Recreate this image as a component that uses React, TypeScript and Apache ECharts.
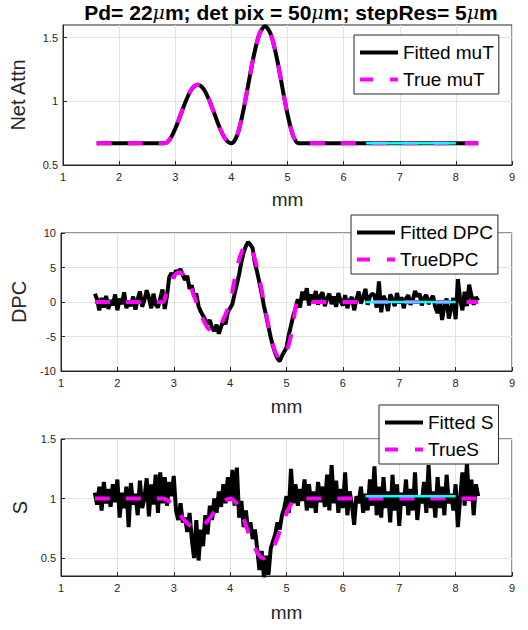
import React, { useEffect, useRef } from "react";
import * as echarts from "echarts";

// ---------- data ----------
const X_START = 1.6;
const TRUE_STEP = 0.1; // true curves sampled every 0.1 mm from 1.6 to 8.4
const FIT_STEP = 0.04; // fitted curves sampled every 0.04 mm from 1.6 to 8.4

const trueMuT = [
  0.67, 0.67, 0.67, 0.67, 0.67, 0.67, 0.67, 0.67, 0.67, 0.67, 0.67, 0.67,
  0.67, 0.7, 0.785, 0.9, 1.015, 1.1, 1.13, 1.1, 1.015, 0.9, 0.785, 0.7, 0.67,
  0.73, 0.9, 1.13, 1.36, 1.53, 1.59, 1.53, 1.36, 1.13, 0.9, 0.73, 0.67,
  0.67, 0.67, 0.67, 0.67, 0.67, 0.67, 0.67, 0.67, 0.67, 0.67, 0.67, 0.67, 0.67, 0.67, 0.67, 0.67,
  0.67, 0.67, 0.67, 0.67, 0.67, 0.67, 0.67, 0.67, 0.67, 0.67, 0.67, 0.67, 0.67, 0.67, 0.67, 0.67,
];
const fittedMuT = [
  0.67, 0.67, 0.67, 0.67, 0.67, 0.67, 0.67, 0.67, 0.67, 0.67, 0.67, 0.67,
  0.67, 0.7, 0.785, 0.9, 1.015, 1.1, 1.13, 1.1, 1.015, 0.9, 0.785, 0.7, 0.67,
  0.73, 0.9, 1.13, 1.36, 1.53, 1.59, 1.53, 1.36, 1.13, 0.9, 0.73, 0.67,
  0.67, 0.67, 0.67, 0.67, 0.67, 0.67, 0.67, 0.67, 0.67, 0.67, 0.67, 0.67, 0.67, 0.67, 0.67, 0.67,
  0.67, 0.67, 0.67, 0.67, 0.67, 0.67, 0.67, 0.67, 0.67, 0.67, 0.67, 0.67, 0.67, 0.67, 0.67, 0.67,
];
const trueDPC = [
  0, 0, 0, 0, 0, 0, 0, 0, 0, 0, 0, 0, 0,
  2.15, 3.72, 4.3, 3.72, 2.15, 0, -2.15, -3.72, -4.3, -3.72, -2.15, 0,
  4.15, 7.19, 8.3, 7.19, 4.15, 0, -4.15, -7.19, -8.3, -7.19, -4.15, 0,
  0, 0, 0, 0, 0, 0, 0, 0, 0, 0, 0, 0, 0, 0, 0, 0,
  0, 0, 0, 0, 0, 0, 0, 0, 0, 0, 0, 0, 0, 0, 0, 0,
];
const trueS = [
  1, 1, 1, 1, 1, 1, 1, 1, 1, 1, 1, 1, 1,
  0.983, 0.94, 0.875, 0.81, 0.77, 0.75, 0.77, 0.81, 0.875, 0.94, 0.983, 1,
  0.967, 0.875, 0.75, 0.625, 0.533, 0.5, 0.533, 0.625, 0.75, 0.875, 0.967, 1,
  1, 1, 1, 1, 1, 1, 1, 1, 1, 1, 1, 1, 1, 1, 1, 1,
  1, 1, 1, 1, 1, 1, 1, 1, 1, 1, 1, 1, 1, 1, 1, 1,
];
const fittedDPC = [
  1.2, 0.4, -1.2, 0.6, -0.8, 0.9, -1.0, 0.3, -0.5, 1.1,
  -1.2, 0.5, -0.3, 1.4, -0.9, 0.2, -0.6, 0.8, -1.1, 0.4,
  1.5, -0.7, 0.3, 1.7, 0.6, -0.9, 1.2, -0.4, -0.8, 0.5,
  1.8, -1.0, 0.9, 3.6, 4.2, 3.5, 4.6, 4.1, 4.8, 3.9,
  3.2, 3.8, 1.9, 2.4, 0.8, 1.2, -0.6, -1.4, -2.0, -2.6,
  -3.2, -2.6, -3.8, -4.2, -3.3, -4.6, -3.6, -2.8, -3.2, -1.4,
  -0.9, -0.3, 1.2, 2.6, 4.0, 5.8, 7.2, 8.1, 8.7, 8.3,
  7.8, 5.6, 4.3, 2.8, 1.2, -0.6, -2.0, -3.6, -5.1, -6.4,
  -7.4, -8.2, -8.6, -7.8, -7.2, -6.6, -4.8, -3.4, -2.0, -0.9,
  0.4, -0.8, 1.5, 0.3, 2.0, -0.5, 1.1, 0.2, 1.6, -0.4,
  0.9, 1.4, -0.6, 0.5, 1.2, -0.3, 0.8, -0.7, 1.3, 0.1,
  -0.5, 1.0, -0.9, 0.3, 0.7, -1.2, 0.4, 1.5, -0.2, 0.6,
  1.9, -0.4, 0.8, 1.2, 1.0, -0.8, 3.0, -1.5, 0.9, 0.2,
  -1.3, 1.1, 0.4, -0.6, 1.3, -0.2, 0.7, -0.9, 0.5, 1.0,
  -0.4, 0.3, 1.6, 0.8, 1.2, -0.5, 0.6, 1.0, -0.3, 0.4,
  0.9, -0.8, -1.6, 0.2, -2.6, -0.6, 0.5, -2.4, -0.9, 0.6,
  -2.5, 3.3, 0.4, -1.2, 1.5, -0.6, 2.5, 0.9, -0.4, 0.7,
  0.2,
];
const fittedS = [
  1.05, 0.95, 1.1, 0.9, 1.14, 0.96, 1.08, 0.93, 1.12, 0.97,
  1.16, 0.84, 1.05, 0.92, 1.1, 0.76, 1.13, 0.95, 1.04, 0.86,
  1.15, 0.92, 1.0, 1.17, 0.85, 1.12, 0.95, 1.2, 0.88, 1.22,
  0.96, 1.18, 0.94, 1.14, 1.02, 1.19, 0.9, 0.82, 0.96, 0.8,
  0.84, 0.72, 0.88, 0.66, 0.5, 0.82, 0.48, 0.74, 0.6, 0.86,
  0.7, 0.94, 0.82, 1.0, 0.88, 1.06, 0.93, 1.12, 0.96, 1.18,
  0.98, 1.24, 0.94, 1.26, 0.84, 0.98, 0.76, 0.9, 0.72, 0.8,
  0.66, 0.74, 0.58, 0.4, 0.56, 0.34, 0.52, 0.36, 0.58, 0.64,
  0.7, 0.8, 0.74, 0.86, 0.92, 1.02, 0.88, 1.25, 0.96, 1.12,
  0.94, 1.08, 0.98, 1.16, 0.9, 1.12, 0.92, 1.06, 0.88, 1.14,
  0.97, 1.1, 0.93, 1.2, 0.9, 1.28, 0.96, 1.15, 0.88, 1.08,
  0.92, 1.22, 0.86, 1.06, 0.95, 0.78, 1.02, 0.96, 1.1, 0.88,
  1.04, 0.9, 1.16, 0.94, 1.27, 0.86, 1.1, 0.84, 1.18, 0.92,
  1.06, 0.8, 1.2, 0.9, 1.12, 0.77, 1.05, 0.94, 1.16, 0.86,
  1.08, 0.9, 1.22, 0.82, 1.02, 0.96, 1.14, 0.88, 1.28, 0.92,
  1.06, 0.84, 1.18, 0.92, 1.1, 0.86, 1.2, 0.96, 1.04, 0.9,
  1.12, 0.76, 1.0, 1.22, 0.94, 1.3, 0.98, 1.16, 0.86, 1.12,
  1.02,
];
// cyan reference segment (background region)
const bgX = [6.4, 8.0];
const bgMuT = [0.67, 0.67];
const bgDPC = [0, 0];
const bgS = [1.02, 1.02];

const xTicks = [1, 2, 3, 4, 5, 6, 7, 8, 9];
const muTTicks = [0.5, 1, 1.5];
const sTicks = [0.5, 1, 1.5];

// ---------- helpers ----------
const FONT = "'Liberation Sans', Arial, Helvetica, sans-serif";
const AX = "#262626";
const GRIDC = "#e3e3e3";

const sampled = (ys: number[], step: number) =>
  ys.map((y, i) => [Math.round((X_START + i * step) * 1000) / 1000, y]);
const paired = (xs: number[], ys: number[]) => xs.map((x, i) => [x, ys[i]]);

const xAxisFor = (gridIndex: number, nameGap: number) => ({
  type: "value",
  gridIndex,
  min: xTicks[0],
  max: xTicks[xTicks.length - 1],
  interval: 1,
  name: "mm",
  nameLocation: "middle",
  nameGap,
  nameTextStyle: { fontSize: 19, color: AX, fontFamily: FONT },
  axisLine: { show: true, onZero: false, lineStyle: { color: AX, width: 1 } },
  axisTick: { show: true, inside: true, length: 4, lineStyle: { color: AX } },
  axisLabel: { fontSize: 11, color: AX, margin: 6, fontFamily: FONT, showMinLabel: true, showMaxLabel: true },
  splitLine: { show: true, lineStyle: { color: GRIDC, width: 1 } },
});

const yAxisFor = (gridIndex: number, name: string, nameGap: number, extra: any) => ({
  type: "value",
  gridIndex,
  name,
  nameLocation: "middle",
  nameGap,
  nameTextStyle: { fontSize: 20, color: AX, fontFamily: FONT },
  axisLine: { show: true, onZero: false, lineStyle: { color: AX, width: 1 } },
  axisTick: { show: true, inside: true, length: 4, lineStyle: { color: AX }, ...(extra.tick || {}) },
  axisLabel: { fontSize: 11, color: AX, margin: 5, fontFamily: FONT, ...(extra.label || {}) },
  splitLine: { show: true, lineStyle: { color: GRIDC, width: 1 } },
  min: extra.min,
  max: extra.max,
  interval: extra.interval,
});

const fitLine = (name: string, idx: number, data: number[][], smooth = 0) => ({
  name,
  type: "line",
  xAxisIndex: idx,
  yAxisIndex: idx,
  data,
  symbol: "none",
  smooth,
  lineStyle: { color: "#000000", width: 4 },
  itemStyle: { color: "#000000" },
  z: 2,
});
const trueLine = (name: string, idx: number, data: number[][]) => ({
  name,
  type: "line",
  xAxisIndex: idx,
  yAxisIndex: idx,
  data,
  symbol: "none",
  smooth: 0.3,
  lineStyle: { color: "#ff00ff", width: 4, type: [15, 16] },
  itemStyle: { color: "#ff00ff" },
  z: 3,
});
const bgLine = (name: string, idx: number, data: number[][]) => ({
  name,
  type: "line",
  xAxisIndex: idx,
  yAxisIndex: idx,
  data,
  symbol: "none",
  lineStyle: { color: "#00ffff", width: 2.5 },
  itemStyle: { color: "#00ffff" },
  z: 4,
});

const SOLID_ICON = "path://M0,0H38V4H0Z";
const DASH_ICON = "path://M0,0H13V4H0Z M30,0H38V4H30Z";

const legendFor = (names: string[], left: number, top: number) => ({
  orient: "vertical",
  left,
  top,
  padding: [7, 5, 4, 6],
  itemGap: 6,
  itemWidth: 38,
  itemHeight: 14,
  backgroundColor: "#ffffff",
  borderColor: AX,
  borderWidth: 1,
  borderRadius: 0,
  selectedMode: false,
  textStyle: { fontSize: 19, color: "#000000", fontFamily: FONT, lineHeight: 21 },
  data: [
    { name: names[0], icon: SOLID_ICON, itemStyle: { color: "#000000", borderWidth: 0 } },
    { name: names[1], icon: DASH_ICON, itemStyle: { color: "#ff00ff", borderWidth: 0 } },
  ],
});

export default function App() {
  const ref = useRef<HTMLDivElement>(null);

  useEffect(() => {
    if (!ref.current) return;
    const chart = echarts.init(ref.current, undefined, { renderer: "svg" });
    chart.setOption({
      animation: false,
      backgroundColor: "#ffffff",
      textStyle: { fontFamily: FONT },
      title: {
        text: "Pd= 22{mu|μ}m; det pix = 50{mu|μ}m; stepRes= 5{mu|μ}m",
        left: 291,
        top: 1,
        padding: 0,
        textAlign: "center",
        textStyle: {
          fontSize: 21,
          lineHeight: 22,
          fontWeight: "bold",
          color: "#000000",
          fontFamily: FONT,
          rich: {
            mu: { fontSize: 19, lineHeight: 22, fontStyle: "italic", fontWeight: "normal", color: "#000000", fontFamily: "'DejaVu Serif', serif" },
          },
        },
      },
      grid: [
        { left: 61, top: 25, width: 451, height: 140, show: true, borderColor: AX, borderWidth: 1, backgroundColor: "#ffffff" },
        { left: 61, top: 233, width: 451, height: 138, show: true, borderColor: AX, borderWidth: 1, backgroundColor: "#ffffff" },
        { left: 61, top: 439, width: 451, height: 137, show: true, borderColor: AX, borderWidth: 1, backgroundColor: "#ffffff" },
      ],
      xAxis: [xAxisFor(0, 25), xAxisFor(1, 26), xAxisFor(2, 27)],
      yAxis: [
        yAxisFor(0, "Net Attn", 35, {
          min: 0.5,
          max: 1.6,
          tick: { customValues: muTTicks },
          label: { customValues: muTTicks },
        }),
        yAxisFor(1, "DPC", 21, { min: -10, max: 10, interval: 5 }),
        yAxisFor(2, "S", 19, {
          min: 0.35,
          max: 1.5,
          tick: { customValues: sTicks },
          label: { customValues: sTicks },
        }),
      ],
      legend: [
        legendFor(["Fitted muT", "True muT"], 354, 35),
        legendFor(["Fitted DPC", "TrueDPC"], 351, 215),
        legendFor(["Fitted S", "TrueS"], 379, 405),
      ],
      series: [
        fitLine("Fitted muT", 0, sampled(fittedMuT, TRUE_STEP), 0.3),
        trueLine("True muT", 0, sampled(trueMuT, TRUE_STEP)),
        bgLine("bg muT", 0, paired(bgX, bgMuT)),
        fitLine("Fitted DPC", 1, sampled(fittedDPC, FIT_STEP)),
        trueLine("TrueDPC", 1, sampled(trueDPC, TRUE_STEP)),
        bgLine("bg DPC", 1, paired(bgX, bgDPC)),
        fitLine("Fitted S", 2, sampled(fittedS, FIT_STEP)),
        trueLine("TrueS", 2, sampled(trueS, TRUE_STEP)),
        bgLine("bg S", 2, paired(bgX, bgS)),
      ],
    });
    return () => chart.dispose();
  }, []);

  return (
    <div
      ref={ref}
      style={{ position: "absolute", left: 0, top: 0, width: 528, height: 630 }}
    />
  );
}
